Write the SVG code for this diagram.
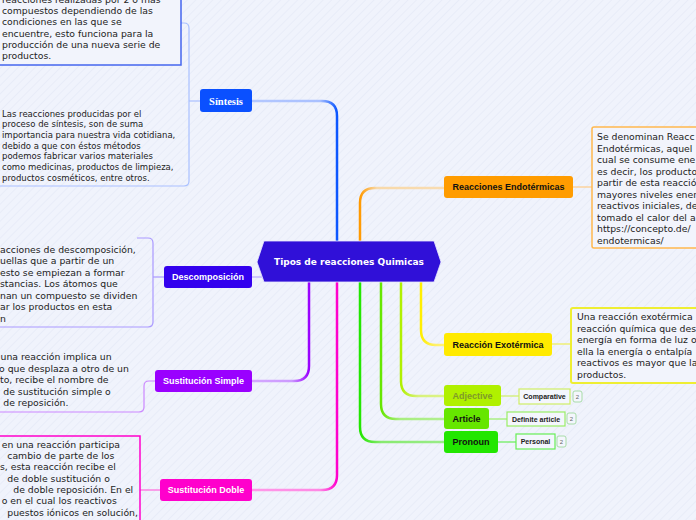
<svg xmlns="http://www.w3.org/2000/svg" width="696" height="520" viewBox="0 0 696 520">
<defs>
<pattern id="bgp" width="6" height="6" patternUnits="userSpaceOnUse" patternTransform="rotate(45)">
<rect width="6" height="6" fill="#f0f3fc"/>
<line x1="0" y1="0" x2="0" y2="6" stroke="#e8ecf8" stroke-width="2"/>
</pattern>
<linearGradient id="gSin" gradientUnits="userSpaceOnUse" x1="337" y1="0" x2="252" y2="0"><stop offset="0" stop-color="#0a55ff"/><stop offset="0.2" stop-color="#a9c0ff"/><stop offset="1" stop-color="#b4c8ff"/></linearGradient>
<linearGradient id="gEnd" gradientUnits="userSpaceOnUse" x1="360" y1="0" x2="444" y2="0"><stop offset="0" stop-color="#ff9900"/><stop offset="0.2" stop-color="#f8d9aa"/><stop offset="1" stop-color="#f8dcb2"/></linearGradient>
<linearGradient id="gSS" gradientUnits="userSpaceOnUse" x1="309" y1="0" x2="252" y2="0"><stop offset="0" stop-color="#9900ff"/><stop offset="0.3" stop-color="#cc99ff"/><stop offset="1" stop-color="#d4a8ff"/></linearGradient>
<linearGradient id="gSD" gradientUnits="userSpaceOnUse" x1="337" y1="0" x2="252" y2="0"><stop offset="0" stop-color="#ff00cc"/><stop offset="0.2" stop-color="#ff88e4"/><stop offset="1" stop-color="#ff99e8"/></linearGradient>
<linearGradient id="gExo" gradientUnits="userSpaceOnUse" x1="421" y1="0" x2="444" y2="0"><stop offset="0" stop-color="#ffee00"/><stop offset="0.6" stop-color="#fff066"/><stop offset="1" stop-color="#fff27a"/></linearGradient>
<linearGradient id="gAdj" gradientUnits="userSpaceOnUse" x1="401" y1="0" x2="444" y2="0"><stop offset="0" stop-color="#b0f000"/><stop offset="0.4" stop-color="#d8f27a"/><stop offset="1" stop-color="#dcf388"/></linearGradient>
<linearGradient id="gArt" gradientUnits="userSpaceOnUse" x1="381" y1="0" x2="444" y2="0"><stop offset="0" stop-color="#66e600"/><stop offset="0.3" stop-color="#a8ee80"/><stop offset="1" stop-color="#b2ef90"/></linearGradient>
<linearGradient id="gPro" gradientUnits="userSpaceOnUse" x1="360" y1="0" x2="444" y2="0"><stop offset="0" stop-color="#22e600"/><stop offset="0.25" stop-color="#88ea70"/><stop offset="1" stop-color="#99ec88"/></linearGradient>
</defs>
<style>
.body{font-family:"DejaVu Sans",Verdana,sans-serif;font-size:9.3px;fill:#222}
.small{font-family:"DejaVu Sans",Verdana,sans-serif;font-size:8.5px;fill:#222}
.lbl{font-family:"Liberation Sans",Arial,sans-serif;font-size:9px;font-weight:bold;text-anchor:middle}
.sub{font-family:"Liberation Sans",Arial,sans-serif;font-size:7px;font-weight:bold;text-anchor:middle;fill:#222}
.badge{fill:#f4f6fd;stroke:#a8dca8;stroke-width:1}
.bt{font-family:"Liberation Sans",Arial,sans-serif;font-size:6px;fill:#666;text-anchor:middle}
.main{fill:none;stroke-width:2.5}
.thin{fill:none;stroke-width:1.2}
</style>
<rect width="696" height="520" fill="url(#bgp)"/>

<g id="connectors">
<path class="main" d="M337,241 V116 Q337,101 322,101 H252" stroke="url(#gSin)"/>
<path class="main" d="M360,241 V203 Q360,188 375,188 H444" stroke="url(#gEnd)"/>
<path class="main" d="M309,282 V366 Q309,381 294,381 H252" stroke="url(#gSS)"/>
<path class="main" d="M337,282 V475 Q337,490 322,490 H252" stroke="url(#gSD)"/>
<path class="main" d="M421,282 V330 Q421,345 436,345 H444" stroke="url(#gExo)"/>
<path class="main" d="M401,282 V381 Q401,396 416,396 H444" stroke="url(#gAdj)"/>
<path class="main" d="M381,282 V404 Q381,419 396,419 H444" stroke="url(#gArt)"/>
<path class="main" d="M360,282 V427 Q360,442 375,442 H444" stroke="url(#gPro)"/>
<path class="thin" d="M252,277 H262" stroke="#b8aaff" stroke-width="1.5"/>
<path class="thin" d="M200,101 H189" stroke="#a9c0ff"/>
<path class="thin" d="M164,277 H153" stroke="#aa99ff"/>
<path class="thin" d="M155,381 H149 Q144,381 144,386 V407 Q144,412 139,412 H-2" stroke="#cc88ff"/>
<path class="thin" d="M160,490 H140" stroke="#ff66dd"/>
<path class="thin" d="M573,187 H592" stroke="#ffcc88"/>
<path class="thin" d="M552,344 H571" stroke="#eeee55"/>
<path class="thin" d="M501,396 H519" stroke="#cfee66"/>
<path class="thin" d="M489,419 H507" stroke="#99ee66"/>
<path class="thin" d="M498,442 H516" stroke="#66ee55"/>
</g>

<g id="center">
<polygon points="257,262 264,241 434,241 441,262 434,282 264,282" fill="#3010d8" stroke="#e8e8ff" stroke-width="0.8"/>
<text x="349" y="265" text-anchor="middle" style="font-family:'DejaVu Sans',Verdana,sans-serif;font-size:9px;font-weight:bold;fill:#fff">Tipos de reacciones Quimicas</text>
</g>

<g id="sintesis">
<rect x="200" y="89" width="52" height="23" rx="3" fill="#0a50ff"/>
<text x="226" y="104.5" text-anchor="middle" style="font-family:'Liberation Serif','Times New Roman',serif;font-size:10.5px;font-weight:bold;fill:#fff">Síntesis</text>
</g>

<g id="sintesis-text-2">
<path class="thin" d="M181,23 H184 Q189,23 189,28 V181 Q189,186 184,186 H-2" stroke="#a9c0ff"/>
<text class="small"><tspan x="2" y="116.7">Las reacciones producidas por el</tspan><tspan x="2" y="127.3">proceso de síntesis, son de suma</tspan><tspan x="2" y="138">importancia para nuestra vida cotidiana,</tspan><tspan x="2" y="148.7">debido a que con éstos métodos</tspan><tspan x="2" y="159.3">podemos fabricar varios materiales</tspan><tspan x="2" y="170">como medicinas, productos de limpieza,</tspan><tspan x="2" y="180.7">productos cosméticos, entre otros.</tspan></text>
</g>

<g id="sintesis-text-1">
<rect x="-10" y="-10" width="191" height="75" fill="#f2f4fc" stroke="#4466ee" stroke-width="1.5"/>
<text class="body"><tspan x="2" y="2.7">reacciones realizadas por 2 o más</tspan><tspan x="2" y="14">compuestos dependiendo de las</tspan><tspan x="2" y="25.3">condiciones en las que se</tspan><tspan x="2" y="36.6">encuentre, esto funciona para la</tspan><tspan x="2" y="48">producción de una nueva serie de</tspan><tspan x="2" y="59.3">productos.</tspan></text>
</g>

<g id="descomposicion">
<rect x="164" y="266" width="88" height="22" rx="3" fill="#3300ee"/>
<text class="lbl" x="208" y="280.3" fill="#fff">Descomposición</text>
</g>
<g id="descomposicion-text">
<path class="thin" d="M137,238 H148 Q153,238 153,243 V322 Q153,327 148,327 H-2" stroke="#aa99ff"/>
<text class="body"><tspan x="0" y="252.7">acciones de descomposición,</tspan><tspan x="0" y="264.2">uellas que a partir de un</tspan><tspan x="0" y="275.7">esto se empiezan a formar</tspan><tspan x="0" y="287.2">stancias. Los átomos que</tspan><tspan x="0" y="298.7">nan un compuesto se dividen</tspan><tspan x="0" y="310.2">ar los productos en esta</tspan><tspan x="0" y="321.7">n</tspan></text>
</g>

<g id="sustitucion-simple">
<rect x="155" y="370" width="97" height="22" rx="3" fill="#9a00ff"/>
<text class="lbl" x="203.5" y="384.3" fill="#fff">Sustitución Simple</text>
</g>
<g id="sustitucion-simple-text">
<text class="body"><tspan x="0.5" y="360">una reacción implica un</tspan><tspan x="-1" y="371.5">o que desplaza a otro de un</tspan><tspan x="0" y="383">to, recibe el nombre de</tspan><tspan x="3.3" y="394.5">de sustitución simple o</tspan><tspan x="3.3" y="406">de reposición.</tspan></text>
</g>

<g id="sustitucion-doble">
<rect x="160" y="479" width="92" height="22" rx="3" fill="#ff00cc"/>
<text class="lbl" x="206" y="493.3" fill="#fff">Sustitución Doble</text>
</g>
<g id="sustitucion-doble-text">
<path d="M-2,436 H140 V522" fill="none" stroke="#ff00cc" stroke-width="1.5"/>
<text class="body"><tspan x="1.7" y="447.5">en una reacción participa</tspan><tspan x="7.3" y="458.8">cambio de parte de los</tspan><tspan x="0" y="470.2">s, esta reacción recibe el</tspan><tspan x="7.3" y="481.5">de doble sustitución o</tspan><tspan x="13.3" y="492.8">de doble reposición. En el</tspan><tspan x="1.7" y="504.2">o en el cual los reactivos</tspan><tspan x="7.3" y="515.5">puestos iónicos en solución,</tspan></text>
</g>

<g id="endotermicas">
<rect x="444" y="176" width="129" height="22" rx="3" fill="#ff9c00"/>
<text class="lbl" x="508.5" y="190.3" fill="#111">Reacciones Endotérmicas</text>
</g>
<g id="endotermicas-text">
<rect x="592" y="127" width="120" height="121" rx="2" fill="#f2f4fc" stroke="#ffb84d" stroke-width="1.5"/>
<text class="body"><tspan x="597" y="140">Se denominan Reacc</tspan><tspan x="597" y="151.5">Endotérmicas, aquel</tspan><tspan x="597" y="163">cual se consume ene</tspan><tspan x="597" y="174.5">es decir, los producto</tspan><tspan x="597" y="186">partir de esta reacció</tspan><tspan x="597" y="197.5">mayores niveles ener</tspan><tspan x="597" y="209">reactivos iniciales, de</tspan><tspan x="597" y="220.5">tomado el calor del a</tspan><tspan x="597" y="232">https://concepto.de/</tspan><tspan x="597" y="243.5">endotermicas/</tspan></text>
</g>

<g id="exotermica">
<rect x="444" y="333" width="108" height="23" rx="3" fill="#ffea00"/>
<text class="lbl" x="498" y="347.8" fill="#111">Reacción Exotérmica</text>
</g>
<g id="exotermica-text">
<rect x="571" y="308" width="140" height="75" rx="2" fill="#f2f4fc" stroke="#eeee33" stroke-width="2"/>
<text class="body"><tspan x="577" y="320">Una reacción exotérmica</tspan><tspan x="577" y="331.5">reacción química que des</tspan><tspan x="577" y="343">energía en forma de luz o</tspan><tspan x="577" y="354.5">ella la energía o entalpía</tspan><tspan x="577" y="366">reactivos es mayor que la</tspan><tspan x="577" y="377.5">productos.</tspan></text>
</g>

<g id="adjective">
<rect x="444" y="385" width="57" height="21" rx="3" fill="#b0f000"/>
<text class="lbl" x="472.5" y="399" fill="#7f9a2a">Adjective</text>
</g>
<g id="comparative">
<rect x="519" y="389" width="51" height="15" fill="#f4f6fd" stroke="#cfee66" stroke-width="1.2"/>
<text class="sub" x="544.5" y="399">Comparative</text>
<rect class="badge" x="573" y="391" width="9" height="11" rx="2"/>
<text class="bt" x="577.5" y="398.8">2</text>
</g>

<g id="article">
<rect x="444" y="408" width="45" height="21" rx="3" fill="#66e600"/>
<text class="lbl" x="466.5" y="422" fill="#111">Article</text>
</g>
<g id="definite-article">
<rect x="507" y="412" width="58" height="14" fill="#f4f6fd" stroke="#99ee66" stroke-width="1.2"/>
<text class="sub" x="536" y="421.5">Definite article</text>
<rect class="badge" x="567" y="413" width="9" height="11" rx="2"/>
<text class="bt" x="571.5" y="420.8">2</text>
</g>

<g id="pronoun">
<rect x="444" y="431" width="54" height="22" rx="3" fill="#22e600"/>
<text class="lbl" x="471" y="445.3" fill="#111">Pronoun</text>
</g>
<g id="personal">
<rect x="516" y="434" width="39" height="15" fill="#f4f6fd" stroke="#66ee55" stroke-width="1.2"/>
<text class="sub" x="535.5" y="444">Personal</text>
<rect class="badge" x="557" y="436" width="9" height="11" rx="2"/>
<text class="bt" x="561.5" y="443.8">2</text>
</g>
</svg>
